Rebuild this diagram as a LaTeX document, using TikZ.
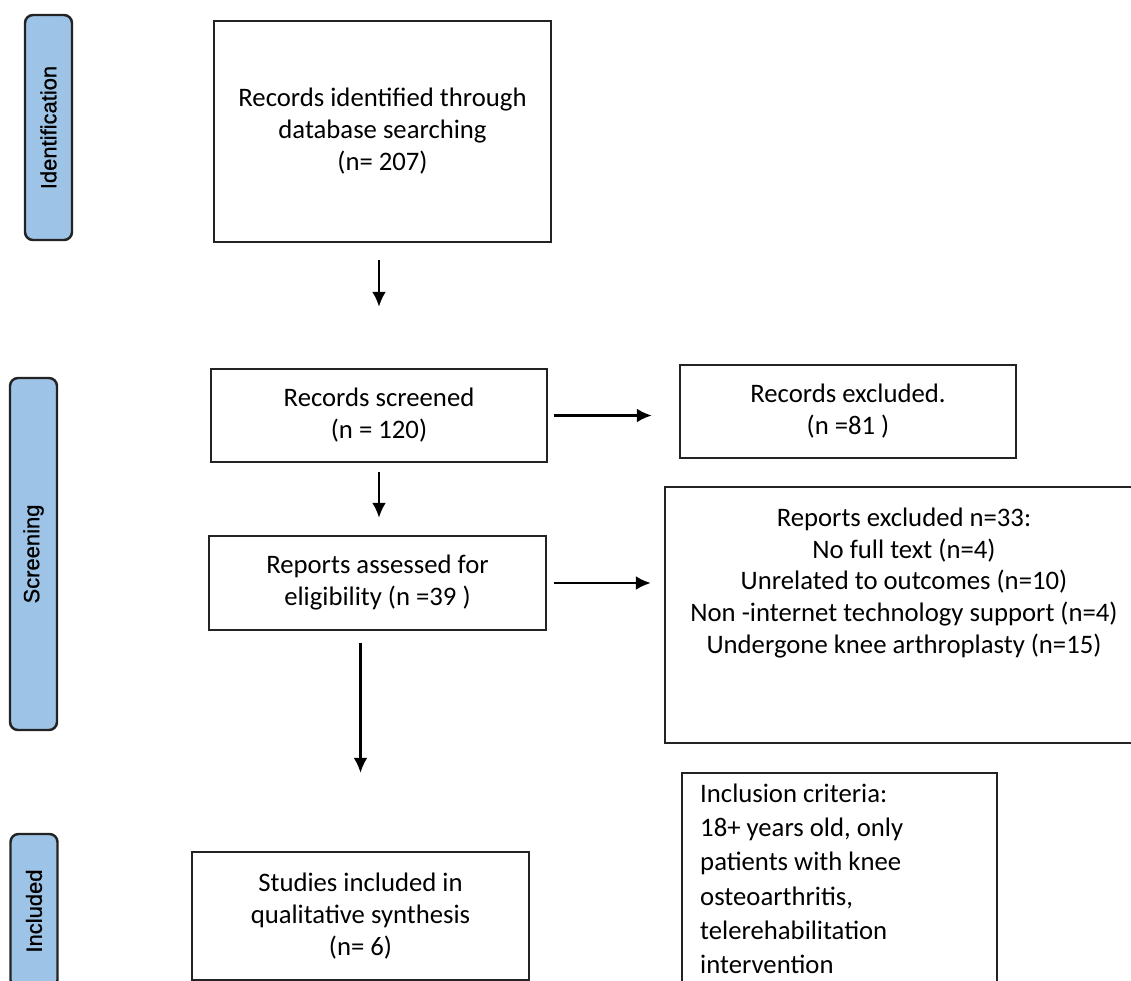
\documentclass[tikz,border=0pt]{standalone}
\usepackage{fontspec}
\setmainfont{Carlito}
\newfontfamily\phasefont[FakeBold=0.8]{Liberation Sans}
\usetikzlibrary{arrows.meta, positioning}
\definecolor{phaseblue}{RGB}{157,195,230}
\definecolor{edgegray}{RGB}{35,35,35}

\begin{document}
\begin{tikzpicture}[font=\fontsize{15.2}{18.2}\selectfont, >={Latex[length=0.3cm,width=0.28cm]}, line width=1.4pt,
    box/.style={draw=edgegray, rectangle, align=center, inner sep=0pt},
    phase/.style={draw=edgegray, fill=phaseblue, rounded corners=0.16cm, rotate=90, inner sep=0pt,
        minimum height=0.94cm, font=\phasefont\fontsize{12.5}{15}\selectfont},
    arr/.style={->}]
    \useasboundingbox (0,0) rectangle (22.62,-19.62);

    \node[phase, minimum width=4.5cm] (idphase) at (0.97,-2.55) {Identification};
    \node[phase, minimum width=7.04cm] (scrphase) at (0.67,-11.08) {Screening};
    \node[phase, minimum width=3.08cm] (incphase) at (0.68,-18.22) {Included};

    \node[box, minimum width=6.74cm, minimum height=4.42cm] (ident) at (7.65,-2.63) {Records identified through\\database searching\\(n= 207)};
    \node[box, minimum width=6.72cm, minimum height=1.86cm] (screened) at (7.58,-8.31) {Records screened\\(n = 120)};
    \node[box, minimum width=6.72cm, minimum height=1.86cm] (excluded) at (16.96,-8.23) {Records excluded.\\(n =81 )};
    \node[box, minimum width=6.74cm, minimum height=1.88cm] (assessed) at (7.55,-11.66) {Reports assessed for\\eligibility (n =39 )};
    \node[box, minimum width=9.7cm, minimum height=5.12cm] (repexcl) at (18.15,-12.3) {};
    \node[align=center, inner sep=0pt] (repexcltext) at (18.08,-11.66) {Reports excluded n=33:\\No full text (n=4)\\Unrelated to outcomes (n=10)\\Non -internet technology support (n=4)\\Undergone knee arthroplasty (n=15)};
    \node[box, minimum width=6.74cm, minimum height=2.56cm] (studies) at (7.21,-18.32) {Studies included in\\qualitative synthesis\\(n= 6)};
    \node[box, anchor=north west, align=flush left, text width=5.58cm, inner xsep=0.36cm, inner ysep=0.22cm,
        font=\fontsize{15.2}{19.4}\selectfont] (criteria) at (13.62,-15.44)
        {Inclusion criteria:\\18+ years old, only\\patients with knee\\osteoarthritis,\\telerehabilitation\\intervention};

    \draw[arr, shorten <=0.34cm, shorten >=1.22cm] (ident.south -| screened.north) -- (screened.north);
    \draw[arr, shorten <=0.12cm, shorten >=0.54cm] (screened.east) -- (screened.east -| excluded.west);
    \draw[arr, shorten <=0.18cm, shorten >=0.34cm] (screened.south) -- (screened.south |- assessed.north);
    \draw[arr, shorten <=0.14cm, shorten >=0.26cm] (assessed.east) -- (assessed.east -| repexcl.west);
    \draw[arr, shorten <=0.24cm, shorten >=1.56cm] (studies.north |- assessed.south) -- (studies.north);
\end{tikzpicture}
\end{document}
